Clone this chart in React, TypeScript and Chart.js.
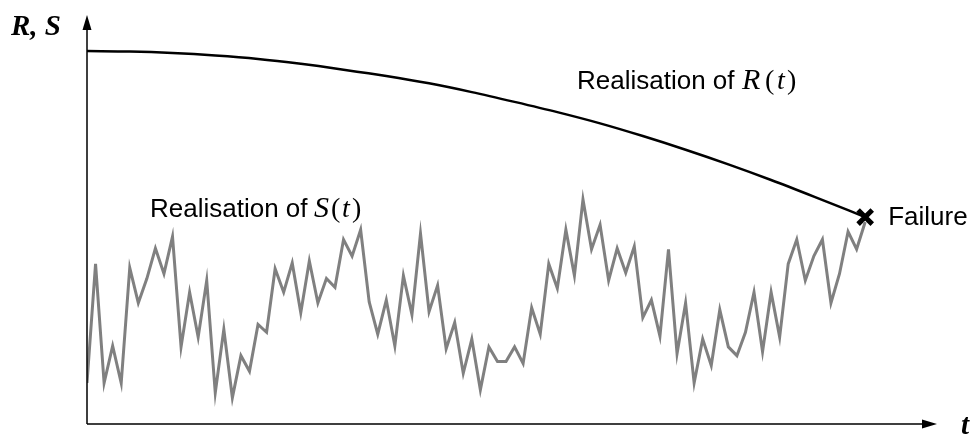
import { useEffect, useRef } from "react";
import { Chart, registerables } from "chart.js";

Chart.register(...registerables);

// Load process S(t): one sample per time step
const sValues = [
  42, 164, 42, 80, 42, 160, 124, 149, 180, 154, 192, 79, 135, 89, 147, 32,
  97, 27, 70, 54, 102, 94, 159, 135, 165, 114, 167, 124, 149, 140, 189, 172,
  199, 125, 92, 127, 80, 152, 112, 195, 115, 142, 77, 104, 52, 87, 35, 79,
  64, 64, 79, 62, 119, 92, 164, 139, 199, 152, 230, 179, 204, 147, 180, 155,
  182, 109, 127, 90, 179, 72, 124, 42, 87, 60, 117, 79, 70, 94, 135, 74,
  135, 89, 164, 189, 147, 172, 189, 124, 154, 197, 179, 207,
];

// Resistance R(t): slowly degrading, sampled at a few times
const rTimes = [0, 5, 10, 15, 20, 25, 30, 35, 40, 45, 50, 55, 60, 65, 70, 75, 80, 85, 91];
const rValues = [382, 381.5, 380, 377.5, 374, 369, 363, 356.5, 349, 340, 330, 319.5, 308, 295, 281, 266, 250, 233, 212];

// Failure: first time the load reaches the resistance
const failureTime = 91;
const failureValue = 212;

const X_MAX = 99.4;
const Y_MAX = 419;

const SANS = '"Liberation Sans", Arial, sans-serif';
const SERIF = '"Liberation Serif", "Times New Roman", serif';

type Piece = { text: string; font: string; dx: number };

// draw text runs at fixed offsets from a starting point
function drawPieces(ctx: CanvasRenderingContext2D, pieces: Piece[], x: number, y: number) {
  for (const p of pieces) {
    ctx.font = p.font;
    ctx.fillText(p.text, x + p.dx, y);
  }
}

const sans = `26px ${SANS}`;
const serif = `28px ${SERIF}`;
const serifIt = `italic 28px ${SERIF}`;
const serifItBig = `italic 30px ${SERIF}`;

function labelRuns(symbol: string, offsets: [number, number, number, number]): Piece[] {
  return [
    { text: "Realisation of", font: sans, dx: 0 },
    { text: symbol, font: serifItBig, dx: offsets[0] },
    { text: "(", font: serif, dx: offsets[1] },
    { text: "t", font: serifIt, dx: offsets[2] },
    { text: ")", font: serif, dx: offsets[3] },
  ];
}

const decorations = {
  id: "decorations",
  afterDraw(chart: Chart) {
    const { ctx, chartArea } = chart;
    const { left, right, top, bottom } = chartArea;
    ctx.save();
    ctx.strokeStyle = "#000";
    ctx.fillStyle = "#000";
    ctx.lineWidth = 1.5;

    // axes with arrowheads
    ctx.beginPath();
    ctx.moveTo(left, bottom);
    ctx.lineTo(left, top + 10);
    ctx.moveTo(left, bottom);
    ctx.lineTo(right - 10, bottom);
    ctx.stroke();

    ctx.beginPath();
    ctx.moveTo(left, top);
    ctx.lineTo(left - 4.5, top + 15);
    ctx.lineTo(left + 4.5, top + 15);
    ctx.closePath();
    ctx.fill();

    ctx.beginPath();
    ctx.moveTo(right, bottom);
    ctx.lineTo(right - 15, bottom - 4.5);
    ctx.lineTo(right - 15, bottom + 4.5);
    ctx.closePath();
    ctx.fill();

    ctx.textBaseline = "alphabetic";
    ctx.textAlign = "left";

    // axis titles
    ctx.font = `bold italic 29px ${SERIF}`;
    ctx.fillText("R, S", 11, 35);
    ctx.fillText("t", 961, bottom + 10);

    const xs = chart.scales.x;
    const ys = chart.scales.y;

    // curve labels
    drawPieces(ctx, labelRuns("R", [165, 188, 200, 210]), 577, 89);
    drawPieces(ctx, labelRuns("S", [164, 181, 192, 202]), 150, 217);

    ctx.font = sans;
    ctx.fillText(
      "Failure",
      xs.getPixelForValue(failureTime) + 23,
      ys.getPixelForValue(failureValue) + 8
    );
    ctx.restore();
  },
};

export default function App() {
  const ref = useRef<HTMLCanvasElement | null>(null);

  useEffect(() => {
    document.body.style.margin = "0";
    const canvas = ref.current;
    if (!canvas) return;

    const chart = new Chart(canvas, {
      type: "line",
      data: {
        datasets: [
          {
            label: "S(t)",
            data: sValues.map((v, i) => ({ x: i, y: v })),
            borderColor: "#808080",
            borderWidth: 3,
            pointRadius: 0,
            tension: 0,
            borderJoinStyle: "miter",
          },
          {
            label: "R(t)",
            data: rTimes.map((t, i) => ({ x: t, y: rValues[i] })),
            borderColor: "#000",
            borderWidth: 2.5,
            pointRadius: 0,
            cubicInterpolationMode: "monotone",
          },
          {
            label: "Failure",
            data: [{ x: failureTime, y: failureValue }],
            showLine: false,
            pointStyle: "crossRot",
            pointRadius: 10,
            pointBorderWidth: 5,
            pointBorderColor: "#000",
            pointBackgroundColor: "#000",
          },
        ],
      },
      options: {
        responsive: false,
        animation: false,
        layout: { padding: { left: 87, top: 13, right: 35, bottom: 7 } },
        plugins: {
          legend: { display: false },
          tooltip: { enabled: false },
        },
        scales: {
          x: { type: "linear", min: 0, max: X_MAX, display: false },
          y: { type: "linear", min: 0, max: Y_MAX, display: false },
        },
      },
      plugins: [decorations],
    });

    return () => chart.destroy();
  }, []);

  return (
    <div style={{ position: "absolute", left: 0, top: 0, width: 972, height: 439 }}>
      <canvas ref={ref} width={972} height={439} style={{ display: "block" }} />
    </div>
  );
}
